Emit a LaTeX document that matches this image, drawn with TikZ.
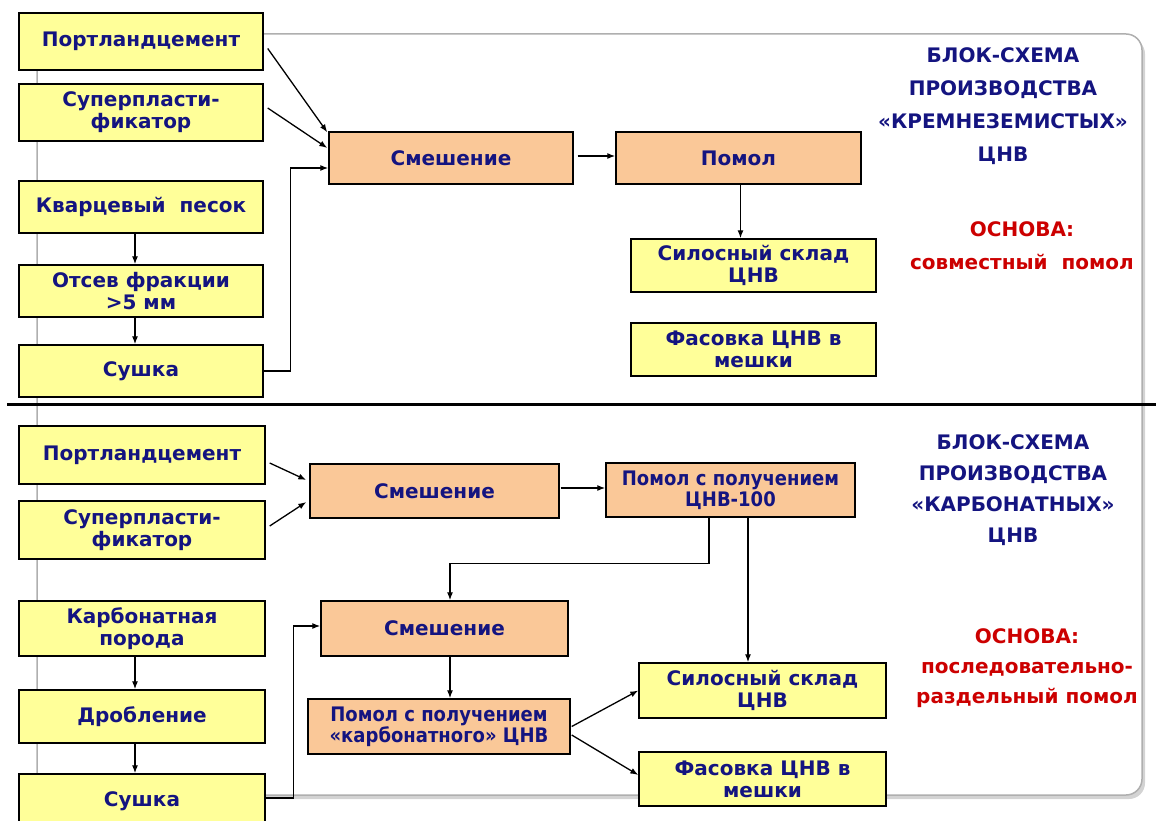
\documentclass[tikz,border=0pt]{standalone}
\usepackage{fontspec}
\setmainfont{DejaVu Sans}
\newfontfamily\narrowfont[FakeStretch=0.9]{DejaVu Sans}
\usepackage{tikz}
\usetikzlibrary{shapes,positioning,calc,shadows}
\usetikzlibrary{arrows,arrows.meta}

\definecolor{inkblue}{RGB}{20,20,128}
\definecolor{inkred}{RGB}{204,0,0}
\definecolor{yellowfill}{RGB}{255,255,153}
\definecolor{tanfill}{RGB}{250,200,152}
\definecolor{frame}{RGB}{175,175,175}

\tikzset{
  yelbox/.style={draw=black, fill=yellowfill, line width=1.4pt, inner sep=0pt,
                 align=center, text=inkblue, font=\bfseries\fontsize{20}{22}\selectfont},
  tanbox/.style={yelbox, fill=tanfill},
  narrow/.style={font=\narrowfont\bfseries\fontsize{20}{21}\selectfont},
  arr/.style={-{Latex[length=8pt,width=6pt]}, line width=1.3pt},
  title/.style={align=center, text=inkblue, font=\bfseries\fontsize{20}{33}\selectfont},
  basis/.style={title, text=inkred},
}

\begin{document}
\begin{tikzpicture}[x=1pt,y=-1pt]
\useasboundingbox (0,0) rectangle (1156,821);

% background panel
\draw[frame, line width=1.5pt, fill=white, rounded corners=16pt,
      drop shadow={shadow xshift=3pt, shadow yshift=-4pt, opacity=0.35}]
       (37,34) rectangle (1142,795);

% ---- upper scheme
\node[yelbox, minimum width=244pt, minimum height=57pt] (port1)   at (141,41.5) {Портландцемент};
\node[yelbox, minimum width=244pt, minimum height=57pt] (super1)  at (141,112.5) {Суперпласти-\\фикатор};
\node[yelbox, minimum width=244pt, minimum height=52pt] (quartz)  at (141,207) {Кварцевый\ \ песок};
\node[yelbox, minimum width=244pt, minimum height=52pt] (sieve)   at (141,291) {Отсев фракции\\>5 мм};
\node[yelbox, minimum width=244pt, minimum height=52pt] (dry1)    at (141,371) {Сушка};

\node[tanbox, minimum width=244pt, minimum height=52pt] (mix1)    at (451,158) {Смешение};
\node[tanbox, minimum width=245pt, minimum height=52pt] (mill1)   at (738.5,158) {Помол};
\node[yelbox, minimum width=245pt, minimum height=53pt] (silo1)   at (753.5,265.5) {Силосный\ склад\\ЦНВ};
\node[yelbox, minimum width=245pt, minimum height=53pt] (pack1)   at (753.5,349.5) {Фасовка\ ЦНВ\ в\\мешки};

\node[title] (head1) at (1003,106) {БЛОК-СХЕМА\\ПРОИЗВОДСТВА\\«КРЕМНЕЗЕМИСТЫХ»\\ЦНВ};
\node[basis] (base1) at (1022,246) {ОСНОВА:\\совместный\ \ помол};

\draw[arr] ($(port1.east)+(4,7)$) -- ($(mix1.north west)+(-1,1)$);
\draw[arr] ($(super1.east)+(4,-4.5)$) -- ($(mix1.west)+(-1,-10)$);
\draw[arr] (dry1.east) -- ++(27,0) |- ($(mix1.west)+(0,10)$);
\draw[arr] ($(quartz.south)+(-6,0)$) -- ($(sieve.north)+(-6,0)$);
\draw[arr] ($(sieve.south)+(-6,0)$) -- ($(dry1.north)+(-6,0)$);
\draw[arr] ($(mix1.east)+(4,-2)$) -- ($(mill1.west)+(0,-2)$);
\draw[arr] ($(mill1.south)+(2,0)$) -- ($(silo1.north)+(-13,0)$);

% separator
\draw[line width=3pt] (7,404) -- (1156,404);

% ---- lower scheme
\node[yelbox, minimum width=246pt, minimum height=58pt] (port2)   at (142,455) {Портландцемент};
\node[yelbox, minimum width=246pt, minimum height=58pt] (super2)  at (142,530) {Суперпласти-\\фикатор};
\node[yelbox, minimum width=246pt, minimum height=55pt] (carb)    at (142,628.5) {Карбонатная\\порода};
\node[yelbox, minimum width=246pt, minimum height=53pt] (crush)   at (142,716.5) {Дробление};
\node[yelbox, minimum width=246pt, minimum height=55pt] (dry2)    at (142,801.5) {Сушка};

\node[tanbox, minimum width=249pt, minimum height=54pt] (mix2)    at (434.5,491) {Смешение};
\node[tanbox, narrow, minimum width=249pt, minimum height=54pt] (mill2) at (730.5,490) {Помол с получением\\ЦНВ-100};
\node[tanbox, minimum width=247pt, minimum height=55pt] (mix3)    at (444.5,628.5) {Смешение};
\node[tanbox, narrow, minimum width=262pt, minimum height=55pt] (mill3) at (439,726.5) {Помол с получением\\«карбонатного» ЦНВ};
\node[yelbox, minimum width=247pt, minimum height=55pt] (silo2)   at (762.5,690.5) {Силосный\ склад\\ЦНВ};
\node[yelbox, minimum width=247pt, minimum height=54pt] (pack2)   at (762.5,779) {Фасовка\ ЦНВ\ в\\мешки};

\node[title, font=\bfseries\fontsize{20}{31}\selectfont] (head2) at (1013,490) {БЛОК-СХЕМА\\ПРОИЗВОДСТВА\\«КАРБОНАТНЫХ»\\ЦНВ};
\node[basis, font=\bfseries\fontsize{20}{30}\selectfont] (base2) at (1027,668) {ОСНОВА:\\последовательно-\\раздельный помол};

\draw[arr] ($(port2.east)+(4,8)$) -- ($(mix2.west)+(-3,-11)$);
\draw[arr] ($(super2.east)+(4,-4)$) -- ($(mix2.west)+(-3,11)$);
\draw[arr] ($(mix2.east)+(1,-3)$) -- ($(mill2.west)+(0,-2)$);
\draw[arr] ($(mill2.south)+(-21.5,0)$) -- ++(0,46) -| ($(mix3.north)+(5.5,0)$);
\draw[arr] ($(mill2.south)+(17.5,0)$) -- ($(silo2.north)+(-14.5,0)$);
\draw[arr] ($(mix3.south)+(5.5,0)$) -- ($(mill3.north)+(11,0)$);
\draw[arr] ($(mill3.east)+(1,0)$) -- (silo2.west);
\draw[arr] ($(mill3.east)+(1,8.5)$) -- ($(pack2.west)+(0,-4)$);
\draw[arr] ($(carb.south)+(-7,0)$) -- ($(crush.north)+(-7,0)$);
\draw[arr] ($(crush.south)+(-7,0)$) -- ($(dry2.north)+(-7,0)$);
\draw[arr] ($(dry2.east)+(0,-3.5)$) -- ++(28,0) |- ($(mix3.west)+(0,-2.5)$);

\end{tikzpicture}
\end{document}
